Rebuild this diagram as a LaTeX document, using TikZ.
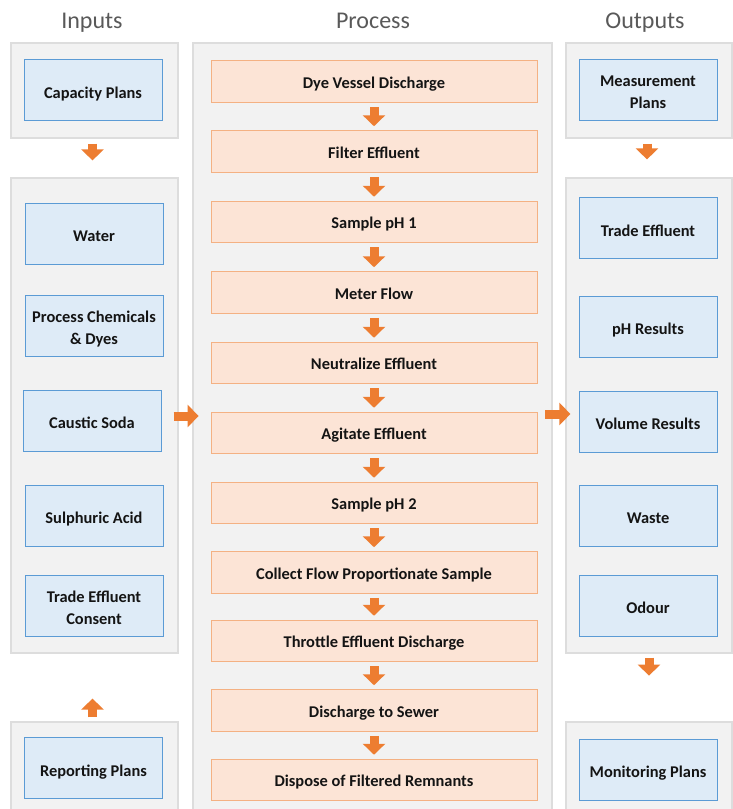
\documentclass[tikz,border=0pt]{standalone}
\usepackage{fontspec}
\setmainfont{Carlito}
\usetikzlibrary{arrows.meta}
\definecolor{panelfill}{HTML}{F2F2F2}
\definecolor{paneldraw}{HTML}{DDDDDD}
\definecolor{bluefill}{HTML}{DEEBF7}
\definecolor{bluedraw}{HTML}{5B9BD5}
\definecolor{orfill}{HTML}{FCE4D6}
\definecolor{ordraw}{HTML}{F4B183}
\definecolor{arrowc}{HTML}{ED7D31}
\definecolor{headc}{HTML}{595959}
\definecolor{txt}{HTML}{141414}
\begin{document}
\begin{tikzpicture}[x=1pt,y=-1pt,
 panel/.style={draw=paneldraw, fill=panelfill, line width=1.2pt, inner sep=0pt},
 inbox/.style={draw=bluedraw, fill=bluefill, line width=0.9pt, minimum width=138pt, minimum height=61pt, font=\fontsize{16.4}{21.6}\selectfont\bfseries, align=center, text=txt, inner sep=0pt, text height=16.6pt, text depth=0pt},
 inboxtwo/.style={inbox, text height=37pt, text depth=0pt},
 pbox/.style={draw=ordraw, fill=orfill, line width=1pt, minimum width=326pt, minimum height=41.5pt, font=\fontsize{16.4}{20}\selectfont\bfseries, text=txt, inner sep=0pt, text height=13.8pt, text depth=0pt},
 head/.style={font=\fontsize{24}{28}\selectfont, text=headc, anchor=base},
 barrow/.style={draw=arrowc, line width=9pt, -{Triangle[width=22pt,length=11pt]}},
]
\useasboundingbox (0,0) rectangle (733,809);
\fill[white] (0,0) rectangle (733,809);

% headers
\node[head] (hin) at (92,28.3) {Inputs};
\node[head] (hproc) at (373,28.3) {Process};
\node[head] (hout) at (645,28.3) {Outputs};

% panels
\node[panel, minimum width=167pt, minimum height=95pt] (ltop) at (94.5,90.5) {};
\node[panel, minimum width=167pt, minimum height=475pt] (lmid) at (94.5,415.5) {};
\node[panel, minimum width=167pt, minimum height=93pt] (lbot) at (94.5,768.5) {};
\node[panel, minimum width=359pt, minimum height=772pt] (proc) at (372.5,429) {};
\node[panel, minimum width=166pt, minimum height=95pt] (rtop) at (649,90.5) {};
\node[panel, minimum width=166pt, minimum height=475pt] (rmid) at (649,415.5) {};
\node[panel, minimum width=166pt, minimum height=93pt] (rbot) at (649,768.5) {};

% inputs
\node[inbox] (cap) at (93,90) {Capacity Plans};
\node[inbox] (water) at (94,233.5) {Water};
\node[inboxtwo] (chem) at (94,325.5) {Process Chemicals\\\& Dyes};
\node[inbox] (caustic) at (92,420.5) {Caustic Soda};
\node[inbox] (sulph) at (94,515.5) {Sulphuric Acid};
\node[inboxtwo] (consent) at (94,605.5) {Trade Effluent\\Consent};
\node[inbox] (report) at (93.5,768) {Reporting Plans};

% outputs
\node[inboxtwo] (meas) at (648,90) {Measurement\\Plans};
\node[inbox] (trade) at (648,228) {Trade Effluent};
\node[inbox] (ph) at (648,326.5) {pH Results};
\node[inbox] (vol) at (648,421.5) {Volume Results};
\node[inbox] (waste) at (648,515.5) {Waste};
\node[inbox] (odour) at (648,605.5) {Odour};
\node[inbox] (monit) at (648,769.5) {Monitoring Plans};

% process
\node[pbox] (p1) at (374,81.5) {Dye Vessel Discharge};
\node[pbox] (p2) at (374,151.5) {Filter Effluent};
\node[pbox] (p3) at (374,222) {Sample pH 1};
\node[pbox] (p4) at (374,292.5) {Meter Flow};
\node[pbox] (p5) at (374,363) {Neutralize Effluent};
\node[pbox] (p6) at (374,433) {Agitate Effluent};
\node[pbox] (p7) at (374,503) {Sample pH 2};
\node[pbox] (p8) at (374,572.5) {Collect Flow Proportionate Sample};
\node[pbox] (p9) at (374,641) {Throttle Effluent Discharge};
\node[pbox] (p10) at (374,710.5) {Discharge to Sewer};
\node[pbox] (p11) at (374,780) {Dispose of Filtered Remnants};

% process arrows
\foreach \a/\b in {p1/p2,p2/p3,p3/p4,p4/p5,p5/p6,p6/p7,p7/p8,p8/p9,p9/p10,p10/p11}
  \draw[barrow] ([yshift=-4pt]\a.south) -- ([yshift=4pt]\b.north);

% side arrows
\draw[barrow] ([xshift=-2pt,yshift=-5pt]ltop.south) -- ([xshift=-2pt,yshift=17pt]lmid.north);
\draw[barrow] ([xshift=-2pt,yshift=4pt]lbot.north) -- ([xshift=-2pt,yshift=-45pt]lmid.south);
\draw[barrow] ([xshift=-2pt,yshift=-5pt]rtop.south) -- ([xshift=-2pt,yshift=18pt]rmid.north);
\draw[barrow] ([yshift=-4pt]rmid.south) -- ([yshift=-22pt]rmid.south);
\draw[barrow] ([xshift=-5pt,yshift=-0.5pt]lmid.east) -- ([xshift=20pt,yshift=-0.5pt]lmid.east);
\draw[barrow] ([xshift=-20pt,yshift=1.5pt]rmid.west) -- ([xshift=5pt,yshift=1.5pt]rmid.west);
\end{tikzpicture}
\end{document}
